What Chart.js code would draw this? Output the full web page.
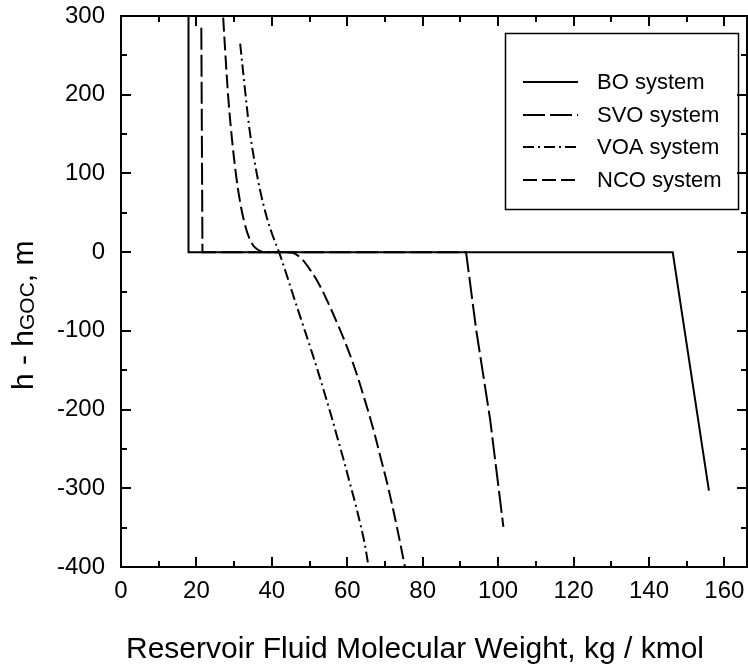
<!DOCTYPE html>
<html><head><meta charset="utf-8">
<script src="https://cdn.jsdelivr.net/npm/chart.js@4.4.1/dist/chart.umd.min.js"></script>
<style>html,body{margin:0;padding:0;background:#fff;}#wrap{width:748px;height:667px;}</style>
</head><body><div id="wrap"><canvas id="c" width="748" height="667"></canvas></div>
<script>
// ---- data ----
const seriesNames = ['BO system', 'SVO system', 'VOA system', 'NCO system'];
const boX = [17.9, 17.9, 146.3, 155.9];
const boH = [300, 0, 0, -303];
const svoX = [21.3, 21.6, 91.5, 94.2, 97.9, 101.4];
const svoH = [285, 0, 0, -99, -213, -349];
const voaX = [31.6, 32.8, 34.1, 35.5, 37.0, 38.5, 40.0, 41.9, 43.6, 45.6, 47.8, 50.0, 52.0, 53.9, 55.7, 57.4, 59.0, 60.5, 62.0, 63.4, 64.6, 65.6];
const voaH = [265, 210, 155, 113, 76, 47, 24, 0, -24, -54, -86, -118, -148, -178, -207, -236, -263, -290, -317, -344, -370, -398];
const ncoX = [27.1, 27.7, 28.5, 29.4, 30.4, 31.5, 32.7, 34.0, 35.5, 37.2, 39.0, 43.5, 45.6, 47.6, 49.8, 52.2, 54.7, 57.3, 59.9, 62.3, 64.6, 66.8, 68.9, 71.0, 73.2, 75.3];
const ncoH = [298, 250, 193, 145, 102, 66, 38, 18, 6, 1, 0, 0, -1, -7, -20, -38, -62, -90, -120, -152, -187, -223, -262, -302, -350, -400];
const xTicks = [0, 20, 40, 60, 80, 100, 120, 140, 160];
const xMinorTicks = [10, 30, 50, 70, 90, 110, 130, 150];
const yTicks = [-400, -300, -200, -100, 0, 100, 200, 300];
const yMinorTicks = [-350, -250, -150, -50, 50, 150, 250];
const xTitle = 'Reservoir Fluid Molecular Weight, kg / kmol';
const yTitleParts = ['h - h', 'GOC', ', m'];

const FONT = '"Liberation Sans", Arial, Helvetica, sans-serif';
const pts = (xs, hs) => xs.map((v, i) => ({x: v, y: hs[i]}));
const styles = [
  {dash: [], tension: 0},
  {dash: [22, 5], tension: 0},
  {dash: [11, 4, 2, 4], tension: 0.35},
  {dash: [14, 5], tension: 0.35}
];
const allData = [pts(boX, boH), pts(svoX, svoH), pts(voaX, voaH), pts(ncoX, ncoH)];
const datasets = allData.map((d, i) => ({
  label: seriesNames[i],
  data: d,
  showLine: true,
  borderColor: '#000',
  backgroundColor: '#000',
  borderWidth: 2,
  borderDash: styles[i].dash,
  borderCapStyle: 'butt',
  borderJoinStyle: 'miter',
  pointRadius: 0,
  tension: styles[i].tension
}));

const decor = {
  id: 'decor',
  afterDatasetsDraw(chart) {
    const {ctx, chartArea: {left, right, top, bottom}, scales: {x, y}} = chart;
    ctx.save();
    ctx.strokeStyle = '#000';
    ctx.lineWidth = 2;
    ctx.setLineDash([]);
    ctx.strokeRect(left, top, right - left, bottom - top);
    ctx.beginPath();
    const xt = (vals, len) => vals.forEach(v => {
      const p = Math.round(x.getPixelForValue(v));
      ctx.moveTo(p, bottom); ctx.lineTo(p, bottom - len);
      ctx.moveTo(p, top); ctx.lineTo(p, top + len);
    });
    const yt = (vals, len) => vals.forEach(v => {
      const p = Math.round(y.getPixelForValue(v));
      ctx.moveTo(left, p); ctx.lineTo(left + len, p);
      ctx.moveTo(right, p); ctx.lineTo(right - len, p);
    });
    xt(xTicks, 10); xt(xMinorTicks, 6);
    yt(yTicks, 10); yt(yMinorTicks, 6);
    ctx.stroke();

    // legend box
    ctx.lineWidth = 1.5;
    ctx.strokeRect(505.5, 33.5, 233, 176);
    const rows = [82, 115, 147, 180];
    chart.data.datasets.forEach((ds, i) => {
      ctx.beginPath();
      ctx.lineWidth = ds.borderWidth;
      ctx.setLineDash(ds.borderDash);
      ctx.moveTo(523, rows[i]); ctx.lineTo(578, rows[i]);
      ctx.stroke();
      ctx.setLineDash([]);
      ctx.fillStyle = '#000';
      ctx.font = '22px ' + FONT;
      ctx.textBaseline = 'middle';
      ctx.textAlign = 'left';
      ctx.fillText(ds.label, 597, rows[i] + 1);
    });

    // x title
    ctx.font = '30px ' + FONT;
    ctx.textAlign = 'center';
    ctx.textBaseline = 'alphabetic';
    ctx.fillText(xTitle, 415, 658);

    // y title with subscript
    ctx.translate(33, 390);
    ctx.rotate(-Math.PI / 2);
    ctx.textAlign = 'left';
    let cx = 0;
    ctx.font = '30px ' + FONT;
    ctx.fillText(yTitleParts[0], cx, 0);
    cx += ctx.measureText(yTitleParts[0]).width;
    ctx.font = '21px ' + FONT;
    ctx.fillText(yTitleParts[1], cx, 1);
    cx += ctx.measureText(yTitleParts[1]).width;
    ctx.font = '30px ' + FONT;
    ctx.fillText(yTitleParts[2], cx, 0);
    ctx.restore();
  }
};

new Chart(document.getElementById('c'), {
  type: 'scatter',
  data: {datasets},
  options: {
    responsive: false,
    animation: false,
    devicePixelRatio: 1,
    layout: {padding: {top: 16, right: 1, left: 0, bottom: 0}},
    plugins: {legend: {display: false}, tooltip: {enabled: false}},
    scales: {
      x: {
        type: 'linear', min: 0, max: 166,
        grid: {display: false, drawTicks: false},
        border: {display: false},
        afterBuildTicks: s => { s.ticks = xTicks.map(v => ({value: v})); },
        afterFit: s => { s.height = 100; s.paddingLeft = 0; s.paddingRight = 0; },
        ticks: {color: '#000', font: {family: FONT, size: 24}, padding: 10, autoSkip: false, maxRotation: 0}
      },
      y: {
        type: 'linear', min: -400, max: 300,
        grid: {display: false, drawTicks: false},
        border: {display: false},
        afterBuildTicks: s => { s.ticks = yTicks.map(v => ({value: v})); },
        afterFit: s => { s.width = 121; s.paddingTop = 0; s.paddingBottom = 0; },
        ticks: {color: '#000', font: {family: FONT, size: 24}, padding: 16, autoSkip: false}
      }
    }
  },
  plugins: [decor]
});
</script></body></html>
